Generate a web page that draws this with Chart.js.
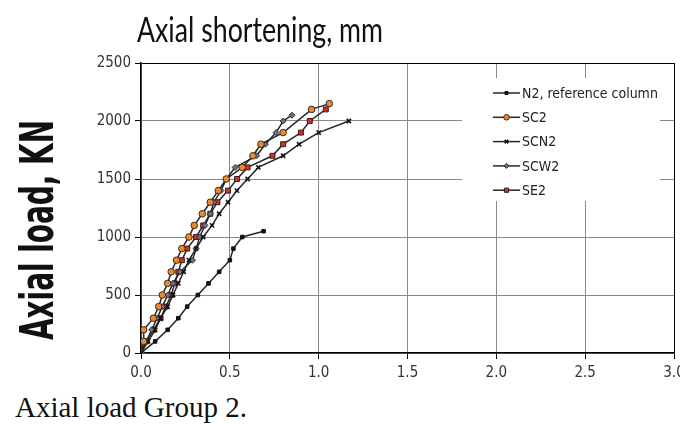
<!DOCTYPE html>
<html>
<head>
<meta charset="utf-8">
<script src="https://cdn.jsdelivr.net/npm/chart.js@4.4.1/dist/chart.umd.min.js"></script>
<style>
  html, body { margin: 0; padding: 0; background: #fff; }
  body { width: 699px; height: 424px; position: relative; overflow: hidden; }
  #plot { position: absolute; left: 0; top: 0; width: 680px; height: 390px; overflow: hidden; }
  #caption {
    position: absolute; left: 15px; top: 393px;
    font-family: 'Liberation Serif', 'DejaVu Serif', serif;
    font-size: 29px; line-height: 29px; color: #111; white-space: nowrap;
  }
</style>
</head>
<body>
<div id="plot"><canvas id="chart-0" width="699" height="390"></canvas></div>
<div id="caption">Axial load Group 2.</div>
<script>
// axial shortening (mm) against load (kN) for each column of group 2
var shortN2 = [0, 0.08, 0.15, 0.21, 0.26, 0.32, 0.38, 0.44, 0.50, 0.52, 0.57, 0.69];
var loadN2  = [0, 100, 200, 300, 400, 500, 600, 700, 800, 900, 1000, 1050];

var shortSC2 = [0, 0.015, 0.015, 0.07, 0.10, 0.12, 0.15, 0.17, 0.20, 0.23, 0.27, 0.30, 0.345, 0.39, 0.435, 0.48, 0.57, 0.63, 0.675, 0.80, 0.96, 1.06];
var loadSC2  = [0, 100, 200, 300, 400, 500, 600, 700, 800, 900, 1000, 1100, 1200, 1300, 1400, 1500, 1600, 1700, 1800, 1900, 2100, 2150];

var shortSCN2 = [0, 0.04, 0.08, 0.11, 0.15, 0.18, 0.21, 0.24, 0.27, 0.31, 0.35, 0.40, 0.44, 0.49, 0.54, 0.60, 0.66, 0.80, 0.89, 1.00, 1.17];
var loadSCN2  = [0, 100, 200, 300, 400, 500, 600, 700, 800, 900, 1000, 1100, 1200, 1300, 1400, 1500, 1600, 1700, 1800, 1900, 2000];

var shortSCW2 = [0, 0.03, 0.06, 0.09, 0.12, 0.15, 0.18, 0.22, 0.29, 0.31, 0.33, 0.36, 0.39, 0.41, 0.45, 0.48, 0.53, 0.65, 0.70, 0.76, 0.80, 0.85];
var loadSCW2  = [0, 100, 200, 300, 400, 500, 600, 700, 800, 900, 1000, 1100, 1200, 1300, 1400, 1500, 1600, 1700, 1800, 1900, 2000, 2050];

var shortSE2 = [0, 0.03, 0.07, 0.11, 0.14, 0.17, 0.19, 0.21, 0.23, 0.26, 0.31, 0.35, 0.39, 0.43, 0.49, 0.54, 0.60, 0.74, 0.80, 0.90, 0.95, 1.04];
var loadSE2  = [0, 100, 200, 300, 400, 500, 600, 700, 800, 900, 1000, 1100, 1200, 1300, 1400, 1500, 1600, 1700, 1800, 1900, 2000, 2100];

var seriesNames = ['N2, reference column', 'SC2', 'SCN2', 'SCW2', 'SE2'];
var xTicks = [0, 0.5, 1.0, 1.5, 2.0, 2.5, 3.0];
var yTicks = [0, 500, 1000, 1500, 2000, 2500];

var narrowFamily = "'DejaVu Sans Condensed', 'Liberation Sans Narrow', 'Liberation Sans', sans-serif";
var tickFont = { family: narrowFamily, size: 15 };
var lineColor = '#262626';

function toPoints(xs, ys) {
    return xs.map(function (x, i) { return { x: x, y: ys[i] }; });
}

function extend(a, b) {
    for (var k in b) { a[k] = b[k]; }
    return a;
}

function series(label, xs, ys, style) {
    return extend({
        label: label,
        data: toPoints(xs, ys),
        showLine: true,
        borderColor: lineColor,
        borderWidth: 1.5,
        pointBorderWidth: 1,
        tension: 0
    }, style);
}

var datasets = [
    series(seriesNames[0], shortN2, loadN2, {
        pointStyle: 'rect', pointRadius: 2.5,
        pointBackgroundColor: '#111', pointBorderColor: '#111'
    }),
    series(seriesNames[1], shortSC2, loadSC2, {
        pointStyle: 'circle', pointRadius: 3.3,
        pointBackgroundColor: '#e98a2c', pointBorderColor: '#3b2a1c'
    }),
    series(seriesNames[2], shortSCN2, loadSCN2, {
        pointStyle: 'crossRot', pointRadius: 3, pointBorderWidth: 1.6,
        pointBackgroundColor: '#111', pointBorderColor: '#111'
    }),
    series(seriesNames[3], shortSCW2, loadSCW2, {
        pointStyle: 'rectRot', pointRadius: 3,
        pointBackgroundColor: '#6c7189', pointBorderColor: '#2f2f3a'
    }),
    series(seriesNames[4], shortSE2, loadSE2, {
        pointStyle: 'rect', pointRadius: 3.5,
        pointBackgroundColor: '#c9352b', pointBorderColor: '#3b1a18'
    })
];

// text squeezed to a given width, like the narrow titles of the sheet
function fittedText(ctx, text, x, y, width, font, align) {
    ctx.save();
    ctx.font = font;
    var w = ctx.measureText(text).width;
    ctx.translate(x, y);
    ctx.scale(width / w, 1);
    ctx.textAlign = align || 'center';
    ctx.textBaseline = 'alphabetic';
    ctx.fillStyle = '#111';
    ctx.fillText(text, 0, 0);
    ctx.restore();
}

var titlesPlugin = {
    id: 'titles',
    afterDraw: function (chart) {
        var ctx = chart.ctx;
        fittedText(ctx, 'Axial shortening, mm', 260, 42, 246, "34px Lato, 'Open Sans', sans-serif");
        ctx.save();
        ctx.translate(53, 230);
        ctx.rotate(-Math.PI / 2);
        fittedText(ctx, 'Axial load, KN', 0, 0, 220, "bold 46px " + narrowFamily);
        ctx.restore();
    }
};

// legend drawn inside the plot, on a white patch over the grid
var boxLegend = {
    id: 'boxLegend',
    afterDatasetsDraw: function (chart) {
        var ctx = chart.ctx;
        var left = 462, top = 78, right = 660, bottom = 201;
        ctx.save();
        ctx.fillStyle = '#fff';
        ctx.fillRect(left, top, right - left, bottom - top);
        var rowY = 93, rowGap = 24.3;
        chart.data.datasets.forEach(function (ds, i) {
            var y = rowY + i * rowGap;
            ctx.strokeStyle = ds.borderColor;
            ctx.lineWidth = 1.5;
            ctx.beginPath();
            ctx.moveTo(493, y);
            ctx.lineTo(520, y);
            ctx.stroke();
            ctx.fillStyle = ds.pointBackgroundColor;
            ctx.strokeStyle = ds.pointBorderColor;
            ctx.lineWidth = ds.pointBorderWidth;
            Chart.helpers.drawPoint(ctx, {
                pointStyle: ds.pointStyle,
                radius: ds.pointRadius * 0.85,
                rotation: 0,
                borderWidth: ds.pointBorderWidth
            }, 506.5, y);
            ctx.fillStyle = '#222';
            ctx.font = "14px " + narrowFamily;
            ctx.textAlign = 'left';
            ctx.textBaseline = 'middle';
            ctx.fillText(ds.label, 522, y + 1);
        });
        ctx.restore();
    }
};

function edgeGrid(max) {
    return function (c) {
        return c.tick && c.tick.value === max ? '#000' : '#8a8a8a';
    };
}

new Chart('chart-0', {
    type: 'scatter',
    data: { datasets: datasets },
    plugins: [titlesPlugin, boxLegend],
    options: {
        responsive: false,
        animation: false,
        layout: { padding: { left: 91, right: 25, top: 63, bottom: 7 } },
        plugins: {
            legend: { display: false },
            tooltip: { enabled: false }
        },
        scales: {
            x: {
                type: 'linear',
                min: xTicks[0],
                max: xTicks[xTicks.length - 1],
                afterBuildTicks: function (scale) {
                    scale.ticks = xTicks.map(function (v) { return { value: v }; });
                },
                afterFit: function (scale) { scale.height = 30; },
                ticks: {
                    font: tickFont, color: '#333', padding: 5, maxRotation: 0,
                    callback: function (v) { return v.toFixed(1); }
                },
                grid: { color: edgeGrid(3), lineWidth: 1, tickLength: 6, tickColor: '#000' },
                border: { color: '#000', width: 1.5 }
            },
            y: {
                type: 'linear',
                min: yTicks[0],
                max: yTicks[yTicks.length - 1],
                afterBuildTicks: function (scale) {
                    scale.ticks = yTicks.map(function (v) { return { value: v }; });
                },
                afterFit: function (scale) { scale.width = 50; },
                ticks: {
                    font: tickFont, color: '#333', padding: 4,
                    callback: function (v) { return String(v); }
                },
                grid: { color: edgeGrid(2500), lineWidth: 1, tickLength: 6, tickColor: '#000' },
                border: { color: '#000', width: 1.5 }
            }
        }
    }
});
</script>
</body>
</html>
